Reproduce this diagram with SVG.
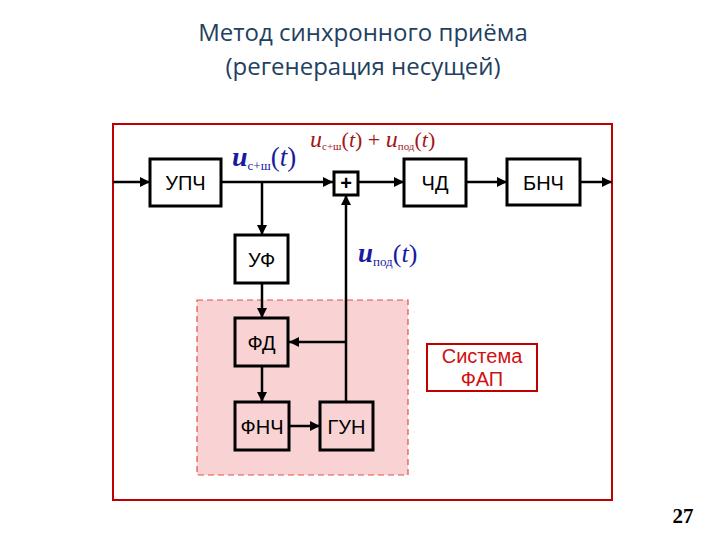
<svg xmlns="http://www.w3.org/2000/svg" width="720" height="540" viewBox="0 0 720 540">
<defs>
<marker id="ah" viewBox="0 0 10 10" refX="10" refY="5" markerWidth="10" markerHeight="10" markerUnits="userSpaceOnUse" orient="auto">
<path d="M0,0 L10,5 L0,10 z" fill="#000"/>
</marker>
<style>
.box{fill:#fff;stroke:#000;stroke-width:3}
.pbox{fill:#f9d3d3;stroke:#000;stroke-width:3}
.lbl{font-family:"Liberation Sans",Arial,sans-serif;font-size:20px;fill:#000;text-anchor:middle}
.ln{fill:none;stroke:#000;stroke-width:2.5}
.m{font-family:"Liberation Serif","Times New Roman",serif}
.title{font-family:"Open Sans","Noto Sans",sans-serif;font-size:24px;fill:#243f60;text-anchor:middle}
</style>
</defs>
<rect width="720" height="540" fill="#fff"/>
<text class="title" x="363" y="41">Метод синхронного приёма</text>
<text class="title" x="363" y="75">(регенерация несущей)</text>

<rect x="113" y="124" width="499" height="376" fill="none" stroke="#c00000" stroke-width="2"/>
<rect id="pll-area" x="197" y="300" width="211" height="175" fill="#f9d3d3" stroke="#e05050" stroke-width="1.2" stroke-dasharray="6,4"/>

<g id="connectors">
<line class="ln" x1="113" y1="182" x2="150" y2="182" marker-end="url(#ah)"/>
<line class="ln" x1="221" y1="182" x2="333" y2="182" marker-end="url(#ah)"/>
<line class="ln" x1="358" y1="182" x2="404" y2="182" marker-end="url(#ah)"/>
<line class="ln" x1="466" y1="182" x2="507" y2="182" marker-end="url(#ah)"/>
<line class="ln" x1="580" y1="182" x2="612" y2="182" marker-end="url(#ah)"/>
<line class="ln" x1="262" y1="182" x2="262" y2="235" marker-end="url(#ah)"/>
<line class="ln" x1="262" y1="283" x2="262" y2="318" marker-end="url(#ah)"/>
<line class="ln" x1="262" y1="366" x2="262" y2="402" marker-end="url(#ah)"/>
<line class="ln" x1="289" y1="426" x2="320" y2="426" marker-end="url(#ah)"/>
<line class="ln" x1="346" y1="402" x2="346" y2="195" marker-end="url(#ah)"/>
<line class="ln" x1="346" y1="342" x2="289" y2="342" marker-end="url(#ah)"/>
</g>

<g id="upch"><rect class="box" x="150" y="159" width="71" height="47"/><text class="lbl" x="185.5" y="190">УПЧ</text></g>
<g id="sum"><rect class="box" x="334" y="172" width="24" height="23"/><text class="lbl" x="346" y="190" font-weight="bold">+</text></g>
<g id="chd"><rect class="box" x="404" y="159" width="62" height="47"/><text class="lbl" x="435" y="190">ЧД</text></g>
<g id="bnch"><rect class="box" x="507" y="159" width="73" height="46"/><text class="lbl" x="543.5" y="190">БНЧ</text></g>
<g id="uf"><rect class="box" x="235" y="235" width="53" height="48"/><text class="lbl" x="261.5" y="267">УФ</text></g>
<g id="fd"><rect class="pbox" x="235" y="318" width="53" height="48"/><text class="lbl" x="261.5" y="350">ФД</text></g>
<g id="fnch"><rect class="pbox" x="235" y="402" width="54" height="48"/><text class="lbl" x="262" y="434">ФНЧ</text></g>
<g id="gun"><rect class="pbox" x="320" y="402" width="53" height="48"/><text class="lbl" x="346.5" y="434">ГУН</text></g>

<g id="pll-label">
<rect x="427" y="344" width="110" height="47" fill="#fff" stroke="#c00000" stroke-width="2"/>
<text class="lbl" x="482" y="363" style="fill:#d01010">Система</text>
<text class="lbl" x="482" y="386" style="fill:#d01010">ФАП</text>
</g>

<text class="m" x="232" y="166" fill="#1a1aa0"><tspan font-style="italic" font-weight="bold" font-size="28">u</tspan><tspan font-size="13" dy="4">с+ш</tspan><tspan font-size="27" dy="-4">(</tspan><tspan font-size="27" font-style="italic">t</tspan><tspan font-size="27">)</tspan></text>
<text class="m" x="310" y="147" fill="#a01818"><tspan font-style="italic" font-size="24">u</tspan><tspan font-size="11" dy="3">с+ш</tspan><tspan font-size="22" dy="-3">(</tspan><tspan font-size="22" font-style="italic">t</tspan><tspan font-size="22">) + </tspan><tspan font-style="italic" font-size="24">u</tspan><tspan font-size="11" dy="3">под</tspan><tspan font-size="22" dy="-3">(</tspan><tspan font-size="22" font-style="italic">t</tspan><tspan font-size="22">)</tspan></text>
<text class="m" x="358" y="262" fill="#1a1aa0"><tspan font-style="italic" font-weight="bold" font-size="27">u</tspan><tspan font-size="13" dy="4">под</tspan><tspan font-size="26" dy="-4">(</tspan><tspan font-size="26" font-style="italic">t</tspan><tspan font-size="26">)</tspan></text>

<text x="683" y="523" font-family="Liberation Serif,serif" font-weight="bold" font-size="21" text-anchor="middle" fill="#000">27</text>
</svg>
